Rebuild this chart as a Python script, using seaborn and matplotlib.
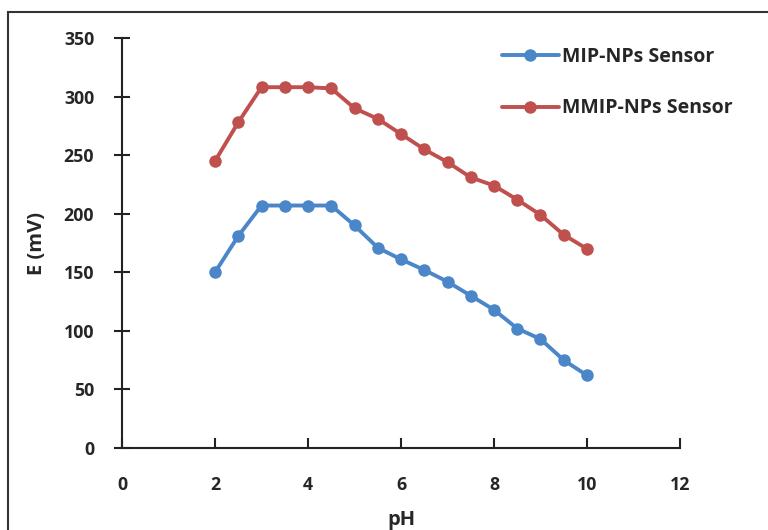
import pandas as pd
import numpy as np
import matplotlib
matplotlib.use('Agg')
import matplotlib.pyplot as plt
import seaborn as sns
from matplotlib.patches import Rectangle

# dữ liệu
ph = [2, 2.5, 3, 3.5, 4, 4.5, 5, 5.5, 6, 6.5, 7, 7.5, 8, 8.5, 9, 9.5, 10]
mip = [150, 181, 207, 207, 207, 207, 190, 171, 161, 152, 142, 130, 118, 102, 93, 75, 62]
mmip = [245, 278, 308, 308, 308, 307, 290, 281, 268, 255, 244, 231, 224, 212, 199, 182, 170]
series_names = ['MIP-NPs Sensor', 'MMIP-NPs Sensor']

df = pd.DataFrame({
    'pH': ph * 2,
    'E': mip + mmip,
    'Sensor': [series_names[0]] * len(ph) + [series_names[1]] * len(ph),
})

sns.set_style('white')
plt.rcParams['font.family'] = ['Open Sans', 'DejaVu Sans']
plt.rcParams['font.weight'] = 'bold'

fig = plt.figure(figsize=(7.68, 5.30), dpi=100)
ax = fig.add_axes([0.1589, 0.1547, 0.7265, 0.7736])

palette = {series_names[0]: '#4A86C8', series_names[1]: '#C0504D'}
sns.lineplot(data=df, x='pH', y='E', hue='Sensor', palette=palette,
             marker='o', markersize=9, markeredgewidth=0, linewidth=2.8, ax=ax)

ax.set_xlim(0, 12)
ax.set_ylim(0, 350)
ax.set_xticks(range(0, 13, 2))
ax.set_yticks(range(0, 351, 50))

for s in ['top', 'right']:
    ax.spines[s].set_visible(False)
for s in ['left', 'bottom']:
    ax.spines[s].set_color('#222222')
    ax.spines[s].set_linewidth(1.5)

ax.tick_params(axis='y', direction='inout', length=12, width=1.5, color='#222222',
               labelsize=12.8, pad=14)
ax.tick_params(axis='x', direction='in', length=7, width=1.5, color='#222222',
               labelsize=12.8, pad=20)
ax.tick_params(left=True, bottom=True)

ax.set_xlabel('pH', fontsize=14.5, fontweight='bold', labelpad=12)
ax.set_ylabel('E (mV)', fontsize=14.5, fontweight='bold', labelpad=12)

handles, labels = ax.get_legend_handles_labels()
ax.legend(handles, labels, loc='upper left', bbox_to_anchor=(0.65, 1.02),
          frameon=False, fontsize=14, handlelength=2.9, labelspacing=1.6,
          handletextpad=0.2)

# khung viền ngoài
fig.patches.append(Rectangle((8 / 768, -0.1), 1.2, 1 - 12 / 530 + 0.1,
                             transform=fig.transFigure, fill=False,
                             edgecolor='#333333', linewidth=1.5))

fig.savefig('out.png', dpi=100)
